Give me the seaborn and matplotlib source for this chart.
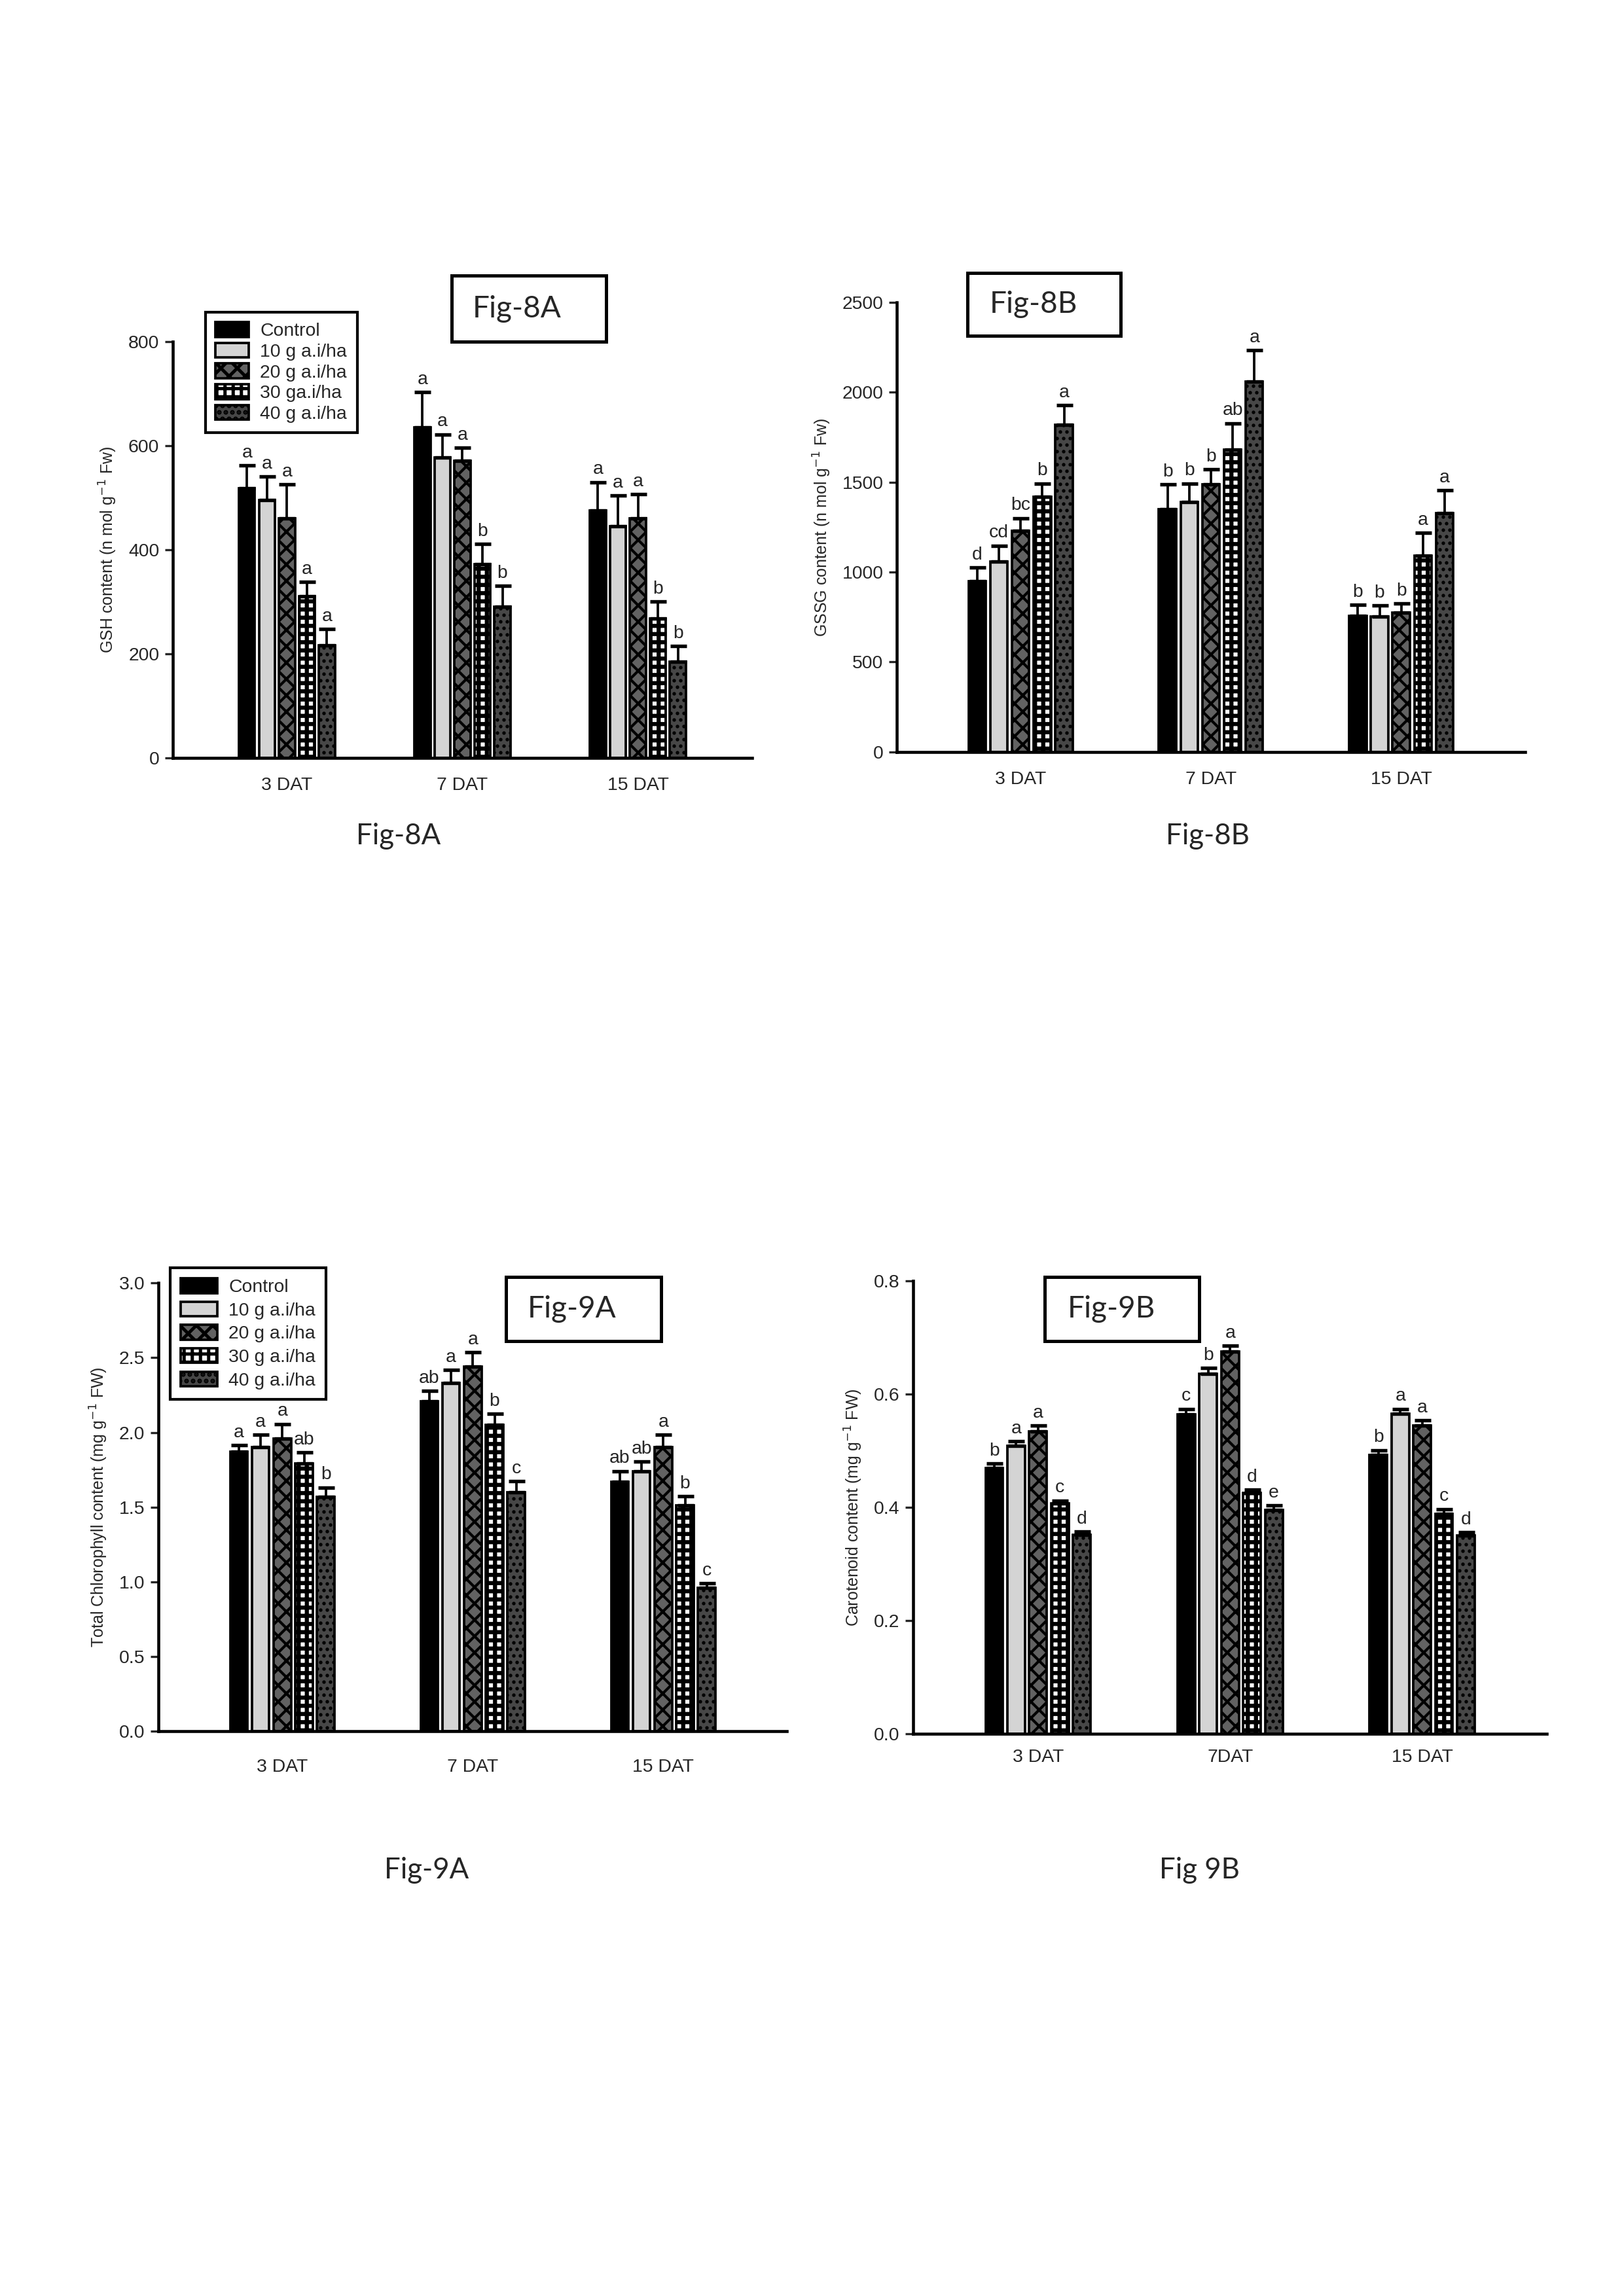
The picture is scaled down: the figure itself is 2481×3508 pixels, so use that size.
# -*- coding: utf-8 -*-
import pandas as pd
import matplotlib
matplotlib.use('Agg')
import matplotlib.pyplot as plt
from matplotlib.patches import Rectangle
import seaborn as sns

# 数据 (行 = 处理, 列 = 天数)
days = ['3 DAT', '7 DAT', '15 DAT']
days_9b = ['3 DAT', '7DAT', '15 DAT']
doses = ['Control', '10 g a.i/ha', '20 g a.i/ha', '30 g a.i/ha', '40 g a.i/ha']
legend_8a = ['Control', '10 g a.i/ha', '20 g a.i/ha', '30 ga.i/ha', '40 g a.i/ha']
legend_9a = ['Control', '10 g a.i/ha', '20 g a.i/ha', '30 g a.i/ha', '40 g a.i/ha']

gsh = [[518, 635, 475], [496, 578, 445], [461, 571, 460], [311, 372, 268], [216, 291, 185]]
gsh_err = [[44, 68, 55], [45, 44, 59], [65, 25, 47], [27, 39, 32], [32, 40, 30]]
gsh_let = [['a', 'a', 'a'], ['a', 'a', 'a'], ['a', 'a', 'a'], ['a', 'b', 'b'], ['a', 'b', 'b']]

gssg = [[948, 1351, 756], [1060, 1391, 753], [1229, 1489, 774], [1418, 1682, 1091], [1820, 2061, 1326]]
gssg_err = [[76, 136, 62], [87, 102, 61], [71, 83, 51], [75, 146, 126], [107, 173, 128]]
gssg_let = [['d', 'b', 'b'], ['cd', 'b', 'b'], ['bc', 'b', 'b'], ['b', 'ab', 'a'], ['a', 'a', 'a']]

chl = [[1.87, 2.21, 1.67], [1.90, 2.33, 1.74], [1.96, 2.44, 1.90], [1.79, 2.05, 1.51], [1.57, 1.60, 0.96]]
chl_err = [[0.045, 0.067, 0.071], [0.085, 0.088, 0.064], [0.097, 0.097, 0.085], [0.076, 0.076, 0.064], [0.062, 0.075, 0.029]]
chl_let = [['a', 'ab', 'ab'], ['a', 'a', 'ab'], ['a', 'a', 'a'], ['ab', 'b', 'b'], ['b', 'c', 'c']]

car = [[0.469, 0.564, 0.493], [0.509, 0.636, 0.565], [0.534, 0.675, 0.545], [0.407, 0.425, 0.389], [0.351, 0.396, 0.350]]
car_err = [[0.008, 0.010, 0.008], [0.008, 0.010, 0.009], [0.010, 0.010, 0.009], [0.005, 0.006, 0.008], [0.006, 0.007, 0.006]]
car_let = [['b', 'c', 'b'], ['a', 'b', 'a'], ['a', 'a', 'a'], ['c', 'd', 'c'], ['d', 'e', 'd']]

# 样式
faces = ['#000000', '#d4d4d4', '#626262', '#ffffff', '#474747']
hatches = [None, None, 'xxxx', '++++', '.....']
hatch_lw = [1.0, 1.0, 1.0, 1.5, 0.8]
narrow = ['Liberation Sans Narrow', 'Liberation Sans', 'DejaVu Sans']

sns.set_style('white')
plt.rcParams['font.family'] = narrow
plt.rcParams['hatch.linewidth'] = 1.2
plt.rcParams['hatch.color'] = 'black'

K = 0.993  # 位置微调


def fx(x):
    return x * K


def fy(y):
    return 1 - (1 - y) * K


def draw_panel(ax, vals, errs, lets, xlabels, ylabel, ymax, ystep, xpad):
    rows = []
    for i, d in enumerate(doses):
        for j, day in enumerate(xlabels):
            rows.append({'day': day, 'dose': d, 'value': vals[i][j]})
    df = pd.DataFrame(rows)
    sns.barplot(data=df, x='day', y='value', hue='dose', order=xlabels, hue_order=doses,
                palette=faces, saturation=1, width=0.57, gap=0.2, edgecolor='black',
                linewidth=0.9, errorbar=None, legend=False, ax=ax)
    bars = list(ax.containers)
    for i, cont in enumerate(bars):
        for j, bar in enumerate(cont):
            if hatches[i]:
                bar.set_hatch(hatches[i])
                if hasattr(bar, 'set_hatch_linewidth'):
                    bar.set_hatch_linewidth(hatch_lw[i])
            x = bar.get_x() + bar.get_width() / 2
            top = bar.get_height()
            ax.errorbar(x, top, yerr=[[0], [errs[i][j]]], fmt='none', ecolor='black',
                        elinewidth=0.9, capsize=3, capthick=1.3)
            ax.annotate(lets[i][j], (x, top + errs[i][j]), xytext=(0, 1.5),
                        textcoords='offset points', ha='center', va='bottom', fontsize=6.8)
    ax.set_xlim(-0.65, 2.65)
    ax.set_ylim(0, ymax)
    ticks = [k * ystep for k in range(int(round(ymax / ystep)) + 1)]
    ax.set_yticks(ticks)
    if ystep < 1:
        ax.set_yticklabels(['%.1f' % t for t in ticks])
    ax.set_xlabel('')
    ax.set_ylabel(ylabel, fontsize=6, family=['Liberation Sans', 'DejaVu Sans'], labelpad=3.5)
    ax.tick_params(axis='x', length=0, pad=xpad, labelsize=6.8)
    ax.tick_params(axis='y', direction='out', length=3, width=0.8, pad=2, labelsize=6.8, left=True)
    sns.despine(ax=ax)
    for s in ['left', 'bottom']:
        ax.spines[s].set_linewidth(1.1)
        ax.spines[s].set_color('black')
    return bars


def title_box(fig, x0, y0, x1, y1, tx, text):
    fig.add_artist(Rectangle((fx(x0), fy(y0)), fx(x1) - fx(x0), fy(y1) - fy(y0),
                             transform=fig.transFigure, fill=False, edgecolor='black',
                             linewidth=1.2))
    fig.text(fx(tx), (fy(y0) + fy(y1)) / 2, text, fontsize=11, family=['Lato', 'DejaVu Sans'],
             ha='left', va='center')


def add_legend(ax, fig, bars, labels, x0, ytop, spacing, hl):
    leg = ax.legend(bars, labels, loc='upper left', bbox_to_anchor=(fx(x0), fy(ytop)),
                    bbox_transform=fig.transFigure, borderaxespad=0, fancybox=False,
                    edgecolor='black', framealpha=1, fontsize=6.8, handlelength=hl,
                    handleheight=0.85, handletextpad=0.6, labelspacing=spacing, borderpad=0.55)
    leg.get_frame().set_linewidth(1.0)


def axes_at(fig, left, bottom, width, height):
    return fig.add_axes([fx(left), fy(bottom), width * K, height * K])


fig = plt.figure(figsize=(2481 / 300, 3508 / 300), dpi=300)

ax1 = axes_at(fig, 0.1072, 0.6676, 0.3591, 0.1825)
b1 = draw_panel(ax1, gsh, gsh_err, gsh_let, days, 'GSH content (n mol g$^{-1}$ Fw)', 800, 200, 7)
add_legend(ax1, fig, b1, legend_8a, 0.1274, 0.8632, 0.16, 1.8)
title_box(fig, 0.280, 0.8501, 0.376, 0.8791, 0.293, 'Fig-8A')

ax2 = axes_at(fig, 0.5562, 0.6702, 0.3894, 0.1972)
draw_panel(ax2, gssg, gssg_err, gssg_let, days, 'GSSG content (n mol g$^{-1}$ Fw)', 2500, 500, 7)
title_box(fig, 0.600, 0.8526, 0.695, 0.8803, 0.6136, 'Fig-8B')

ax3 = axes_at(fig, 0.0983, 0.2406, 0.3898, 0.1967)
b3 = draw_panel(ax3, chl, chl_err, chl_let, days, 'Total Chlorophyll content (mg g$^{-1}$ FW)', 3.0, 0.5, 10)
add_legend(ax3, fig, b3, legend_9a, 0.1056, 0.4438, 0.3, 2.0)
title_box(fig, 0.3136, 0.4117, 0.4100, 0.4398, 0.327, 'Fig-9A')

ax4 = axes_at(fig, 0.5663, 0.2395, 0.3930, 0.1987)
draw_panel(ax4, car, car_err, car_let, days_9b, 'Carotenoid content (mg g$^{-1}$ FW)', 0.8, 0.2, 5.5)
title_box(fig, 0.648, 0.4117, 0.7437, 0.4398, 0.662, 'Fig-9B')

# 图注
cap_font = ['Lato', 'DejaVu Sans']
fig.text(fx(0.2471), fy(0.6334), 'Fig-8A', fontsize=10.5, family=cap_font, ha='center', va='center')
fig.text(fx(0.7490), fy(0.6334), 'Fig-8B', fontsize=10.5, family=cap_font, ha='center', va='center')
fig.text(fx(0.2645), fy(0.1796), 'Fig-9A', fontsize=10.5, family=cap_font, ha='center', va='center')
fig.text(fx(0.7437), fy(0.1796), 'Fig 9B', fontsize=10.5, family=cap_font, ha='center', va='center')

fig.savefig('out.png', dpi=300, facecolor='white')
